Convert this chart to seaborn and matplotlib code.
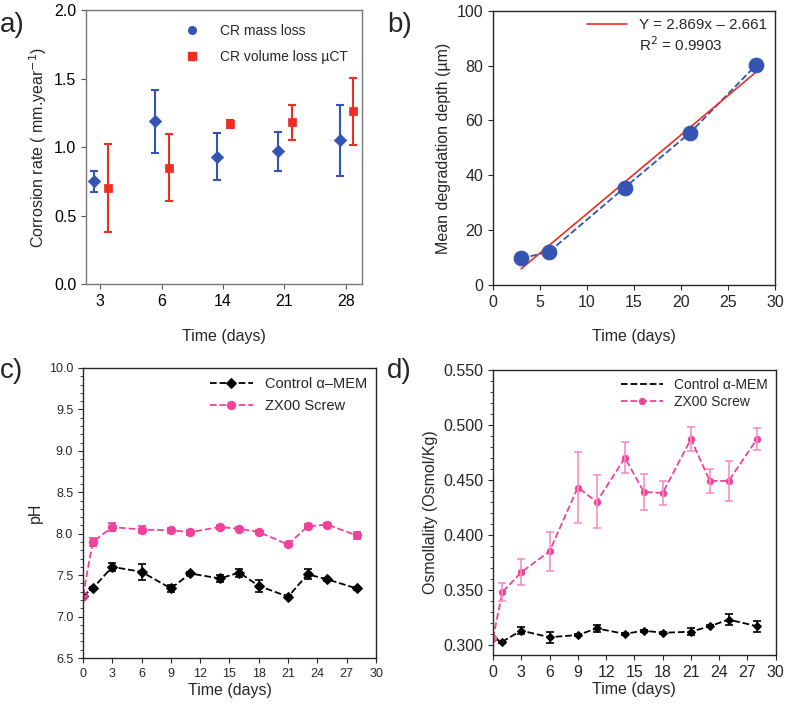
import numpy as np
import pandas as pd
import matplotlib
matplotlib.use("Agg")
import matplotlib.pyplot as plt
from matplotlib.lines import Line2D
from matplotlib.ticker import MultipleLocator, FormatStrFormatter
import seaborn as sns

# ---- data ----
# a) corrosion rate
cr_days = ["3", "6", "14", "21", "28"]
cr_mass = [0.75, 1.19, 0.93, 0.97, 1.05]
cr_mass_err = [0.075, 0.23, 0.17, 0.14, 0.26]
cr_vol = [0.70, 0.85, 1.17, 1.18, 1.26]
cr_vol_err = [0.32, 0.245, 0.03, 0.13, 0.245]

# b) mean degradation depth
depth_days = [3, 6, 14, 21, 28]
depth = [9.7, 12.2, 35.5, 55.6, 80.2]
fit_slope = 2.869
fit_icpt = -2.661

# c) pH and d) osmolality
days = [0, 1, 3, 6, 9, 11, 14, 16, 18, 21, 23, 25, 28]
ph_ctrl = [7.25, 7.34, 7.60, 7.54, 7.34, 7.52, 7.46, 7.53, 7.37, 7.24, 7.51, 7.45, 7.34]
ph_ctrl_err = [0.02, 0.02, 0.05, 0.10, 0.04, 0.02, 0.04, 0.05, 0.07, 0.02, 0.06, 0.02, 0.02]
ph_zx = [7.25, 7.90, 8.08, 8.05, 8.04, 8.02, 8.08, 8.06, 8.02, 7.87, 8.09, 8.11, 7.98]
ph_zx_err = [0.03, 0.05, 0.05, 0.04, 0.03, 0.03, 0.02, 0.02, 0.02, 0.02, 0.03, 0.02, 0.04]
osm_ctrl = [0.306, 0.303, 0.313, 0.307, 0.309, 0.315, 0.310, 0.313, 0.311, 0.312, 0.317, 0.323, 0.317]
osm_ctrl_err = [0.001, 0.001, 0.003, 0.005, 0.001, 0.003, 0.001, 0.001, 0.001, 0.003, 0.001, 0.005, 0.005]
osm_zx = [0.306, 0.348, 0.366, 0.385, 0.443, 0.430, 0.470, 0.439, 0.438, 0.487, 0.449, 0.449, 0.487]
osm_zx_err = [0.001, 0.008, 0.012, 0.018, 0.032, 0.024, 0.014, 0.016, 0.011, 0.011, 0.011, 0.018, 0.010]

BLUE = "#3354b0"
RED = "#ee2d24"
PINK = "#f0429a"
PINK_LIGHT = "#f590c4"

sns.set_style("ticks")
plt.rcParams["font.family"] = ["Liberation Sans", "DejaVu Sans"]
plt.rcParams["axes.linewidth"] = 1.0

fig = plt.figure(figsize=(7.9, 7.11), dpi=100)
ax_a = fig.add_axes([0.109, 0.600, 0.349, 0.386])
ax_b = fig.add_axes([0.624, 0.599, 0.357, 0.386])
ax_c = fig.add_axes([0.105, 0.0745, 0.371, 0.408])
ax_d = fig.add_axes([0.624, 0.079, 0.358, 0.401])

# ---- a) ----
pos = np.arange(len(cr_days))
sns.scatterplot(x=pos - 0.10, y=cr_mass, ax=ax_a, color=BLUE, marker="D", s=40,
                edgecolor=BLUE, zorder=3)
sns.scatterplot(x=pos + 0.12, y=cr_vol, ax=ax_a, color=RED, marker="s", s=40,
                edgecolor=RED, zorder=3)
ax_a.errorbar(pos - 0.10, cr_mass, yerr=cr_mass_err, fmt="none", ecolor=BLUE,
              elinewidth=1.5, capsize=3, capthick=1.5)
ax_a.errorbar(pos + 0.12, cr_vol, yerr=cr_vol_err, fmt="none", ecolor=RED,
              elinewidth=1.5, capsize=3, capthick=1.5)
ax_a.set_xlim(-0.23, 4.26)
ax_a.set_xticks(pos)
ax_a.set_xticklabels(cr_days)
ax_a.set_ylim(0, 2.0)
ax_a.set_yticks([0, 0.5, 1.0, 1.5, 2.0])
ax_a.yaxis.set_major_formatter(FormatStrFormatter("%.1f"))
ax_a.set_xlabel("Time (days)", fontsize=11.5, labelpad=14)
ax_a.set_ylabel("Corrosion rate ( mm.year$^{-1}$)", fontsize=11.5)
for sp in ax_a.spines.values():
    sp.set_color("#777777")
ax_a.tick_params(colors="#555555", labelcolor="black", labelsize=11.5)
leg_handles = [Line2D([], [], color=BLUE, marker="o", ls="none", markersize=5.5),
               Line2D([], [], color=RED, marker="s", ls="none", markersize=5.5)]
ax_a.legend(leg_handles, ["CR mass loss", "CR volume loss µCT"], loc="upper right",
            frameon=False, fontsize=10, handletextpad=1.0, borderaxespad=0.6,
            labelspacing=0.9)

# ---- b) ----
sns.lineplot(x=depth_days, y=depth, ax=ax_b, color=BLUE, linestyle="--", lw=1.3)
sns.scatterplot(x=depth_days, y=depth, ax=ax_b, color=BLUE, s=110, edgecolor=BLUE, zorder=3)
fit_x = np.array([depth_days[0], depth_days[-1]])
ax_b.plot(fit_x, fit_slope * fit_x + fit_icpt, color=RED, lw=1.2, zorder=2)
ax_b.set_xlim(0, 30)
ax_b.set_ylim(0, 100)
ax_b.set_xticks(range(0, 31, 5))
ax_b.set_yticks(range(0, 101, 20))
ax_b.set_xlabel("Time (days)", fontsize=11.5, labelpad=14)
ax_b.set_ylabel("Mean degradation depth (µm)", fontsize=11.5)
ax_b.tick_params(labelsize=11.5)
handles = [Line2D([], [], color=RED, lw=1.2), Line2D([], [], color="none")]
ax_b.legend(handles, [f"Y = {fit_slope}x – {abs(fit_icpt)}", "R$^2$ = 0.9903"],
            loc="upper right", frameon=False, fontsize=11, handlelength=2.6,
            borderaxespad=0.1, labelspacing=0.2)

# ---- c) ----
sns.lineplot(x=days, y=ph_ctrl, ax=ax_c, color="black", linestyle="--", marker="D",
             markersize=5, markeredgecolor="black", lw=1.3, label="Control α–MEM")
sns.lineplot(x=days, y=ph_zx, ax=ax_c, color=PINK, linestyle="--", marker="o",
             markersize=6, markeredgecolor=PINK, lw=1.3, label="ZX00 Screw")
ax_c.errorbar(days, ph_ctrl, yerr=ph_ctrl_err, fmt="none", ecolor="black",
              elinewidth=1.2, capsize=3, capthick=1.2)
ax_c.errorbar(days, ph_zx, yerr=ph_zx_err, fmt="none", ecolor=PINK,
              elinewidth=1.2, capsize=3, capthick=1.2)
ax_c.set_xlim(0, 30)
ax_c.set_ylim(6.5, 10.0)
ax_c.set_xticks(range(0, 31, 3))
ax_c.yaxis.set_major_locator(MultipleLocator(0.5))
ax_c.yaxis.set_minor_locator(MultipleLocator(0.1))
ax_c.yaxis.set_major_formatter(FormatStrFormatter("%.1f"))
ax_c.set_xlabel("Time (days)", fontsize=11.5, labelpad=2)
ax_c.set_ylabel("pH", fontsize=11.5)
ax_c.tick_params(labelsize=9)
ax_c.tick_params(axis="y", which="minor", length=2.5)
ax_c.legend(loc="upper right", frameon=False, fontsize=10.5, handlelength=3,
            borderaxespad=0.2, labelspacing=0.6)

# ---- d) ----
sns.lineplot(x=days, y=osm_ctrl, ax=ax_d, color="black", linestyle="--", marker="D",
             markersize=4, markeredgecolor="black", lw=1.3, label="Control α-MEM")
sns.lineplot(x=days, y=osm_zx, ax=ax_d, color=PINK, linestyle="--", marker="o",
             markersize=4.5, markeredgecolor=PINK, lw=1.3, label="ZX00 Screw")
ax_d.errorbar(days, osm_ctrl, yerr=osm_ctrl_err, fmt="none", ecolor="black",
              elinewidth=1.2, capsize=3, capthick=1.2)
ax_d.errorbar(days, osm_zx, yerr=osm_zx_err, fmt="none", ecolor=PINK_LIGHT,
              elinewidth=1.2, capsize=3, capthick=1.2)
ax_d.set_xlim(0, 30)
ax_d.set_ylim(0.291, 0.550)
ax_d.set_xticks(range(0, 31, 3))
ax_d.set_yticks(np.arange(0.30, 0.551, 0.05))
ax_d.yaxis.set_minor_locator(MultipleLocator(0.01))
ax_d.yaxis.set_major_formatter(FormatStrFormatter("%.3f"))
ax_d.set_xlabel("Time (days)", fontsize=11.5, labelpad=2)
ax_d.set_ylabel("Osmollality (Osmol/Kg)", fontsize=11.5)
ax_d.tick_params(labelsize=11.5)
ax_d.tick_params(axis="y", which="minor", length=2.5)
leg_d = ax_d.legend(loc="upper right", frameon=False, fontsize=10, handlelength=3,
                    borderaxespad=0.2, labelspacing=0.2)
leg_d.legend_handles[0].set_marker("")

# panel letters
for txt, x, y in [("a)", 0.0, 0.955), ("b)", 0.49, 0.955), ("c)", 0.0, 0.468), ("d)", 0.49, 0.468)]:
    fig.text(x, y, txt, fontsize=20)

fig.savefig("out.png", dpi=100)
